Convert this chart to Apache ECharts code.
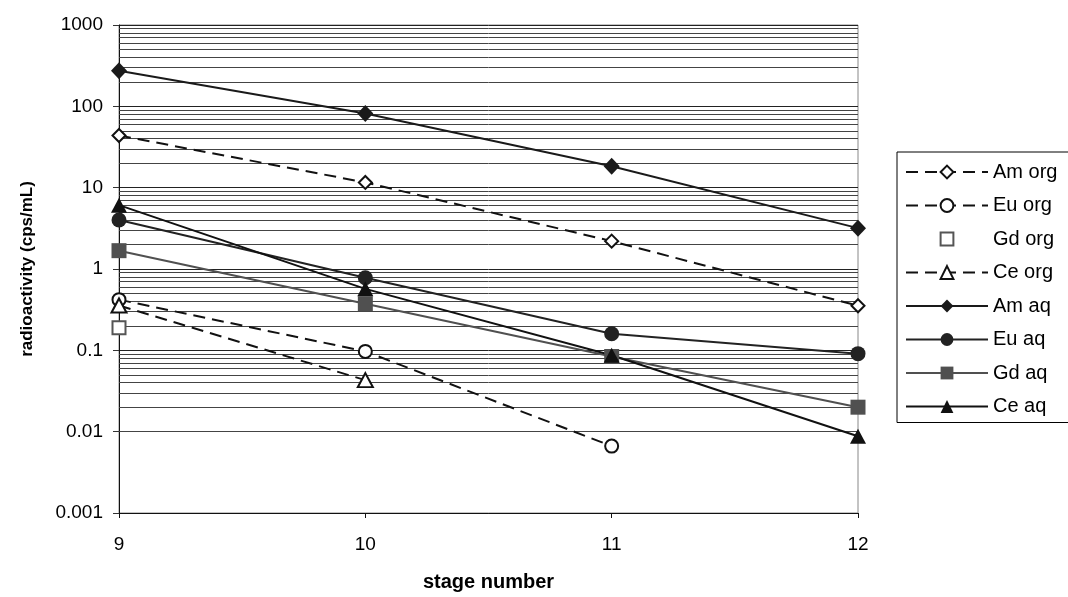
<!DOCTYPE html>
<html><head><meta charset="utf-8">
<script src="https://cdn.jsdelivr.net/npm/echarts@6/dist/echarts.min.js"></script>
<style>html,body{margin:0;padding:0;background:#fff}#c{width:1068px;height:597px}</style>
</head><body><div id="c"></div>
<script>
const stages = [9, 10, 11, 12];
const xTickLabels = ['9', '10', '11', '12'];
const yTickLabels = ['0.001', '0.01', '0.1', '1', '10', '100', '1000'];
const amOrg = [43.8, 11.6, 2.2, 0.353];
const euOrg = [0.42, 0.097, 0.00665, null];
const gdOrg = [0.19, null, null, null];
const ceOrg = [0.356, 0.043, null, null];
const amAq = [274, 81.5, 18.3, 3.18];
const euAq = [4.0, 0.78, 0.16, 0.091];
const gdAq = [1.68, 0.374, 0.084, 0.020];
const ceAq = [6.1, 0.57, 0.087, 0.0088];

const pair = arr => stages.map((s, i) => [s, arr[i]]).filter(p => p[1] != null);

// minor gridlines at 2..9 x each decade
const minorGrid = [];
[0.001, 0.01, 0.1, 1, 10, 100].forEach(d => { for (let k = 2; k <= 9; k++) minorGrid.push(+(d * k).toPrecision(3)); });

const font = 'Liberation Sans, Arial, sans-serif';
const dash = [12, 7];
function mk(name, data, symbol, color, opts) {
  opts = opts || {};
  return {
    name, type: 'line', data: pair(data), symbol, symbolSize: opts.size || 14,
    lineStyle: { color: color, width: opts.noLine ? 0 : 2, type: opts.dashed ? dash : 'solid', opacity: opts.noLine ? 0 : 1 },
    itemStyle: opts.hollow ? { color: '#fff', borderColor: color, borderWidth: 2 } : { color: color, borderWidth: 0 },
    emphasis: { disabled: true }, animation: false, z: 5, connectNulls: false
  };
}
const series = [
  mk('Am org', amOrg, 'diamond', '#111', { dashed: true, hollow: true, size: [13, 13] }),
  mk('Eu org', euOrg, 'circle', '#111', { dashed: true, hollow: true, size: 13 }),
  mk('Gd org', gdOrg, 'rect', '#555', { noLine: true, hollow: true, size: 13 }),
  mk('Ce org', ceOrg, 'triangle', '#111', { dashed: true, hollow: true, size: [15, 14] }),
  mk('Am aq', amAq, 'diamond', '#1a1a1a', { size: [16, 17] }),
  mk('Eu aq', euAq, 'circle', '#222', { size: 15 }),
  mk('Gd aq', gdAq, 'rect', '#505050', { size: 15 }),
  mk('Ce aq', ceAq, 'triangle', '#111', { size: [16, 15] }),
  {
    name: 'grid', type: 'line', data: [], silent: true, z: 1,
    markLine: { silent: true, symbol: 'none', label: { show: false }, animation: false,
      lineStyle: { color: '#444', width: 1, type: 'solid' },
      data: minorGrid.map(v => ({ yAxis: v })) }
  }
];

const chart = echarts.init(document.getElementById('c'), null, { renderer: 'canvas' });
chart.setOption({
  animation: false,
  backgroundColor: '#fff',
  grid: { left: 119, right: 210, top: 25, bottom: 82, show: true, borderColor: '#888', borderWidth: 1 },
  xAxis: {
    type: 'value', min: 9, max: 12, interval: 1,
    name: 'stage number', nameLocation: 'middle', nameGap: 59,
    nameTextStyle: { fontFamily: font, fontSize: 20, fontWeight: 'bold', color: '#000' },
    axisLine: { show: true, lineStyle: { color: '#111', width: 1 } },
    axisTick: { show: true, length: 5, inside: false, lineStyle: { color: '#111' } },
    axisLabel: { fontFamily: font, fontSize: 19, color: '#000', margin: 22,
      formatter: (v) => xTickLabels[stages.indexOf(v)] || '' },
    splitLine: { show: false }
  },
  yAxis: {
    type: 'log', logBase: 10, min: 0.001, max: 1000,
    name: 'radioactivity (cps/mL)', nameLocation: 'middle', nameRotate: 90, nameGap: 83,
    nameTextStyle: { fontFamily: font, fontSize: 17, fontWeight: 'bold', color: '#000' },
    axisLine: { show: true, lineStyle: { color: '#111', width: 1 } },
    axisTick: { show: true, length: 6, lineStyle: { color: '#333' } },
    axisLabel: { fontFamily: font, fontSize: 19, color: '#000', margin: 16,
      formatter: (v, i) => yTickLabels[i] },
    splitLine: { show: true, lineStyle: { color: '#222', width: 1 } },
    minorTick: { show: false }
  },
  legend: {
    orient: 'vertical', left: 897, top: 152,
    padding: [10, 40, 6, 8], itemWidth: 82, itemHeight: 16, itemGap: 13.5,
    borderColor: '#000', borderWidth: 1, backgroundColor: '#fff',
    textStyle: { fontFamily: font, fontSize: 20, color: '#000' },
    data: ['Am org', 'Eu org', 'Gd org', 'Ce org', 'Am aq', 'Eu aq', 'Gd aq', 'Ce aq'],
    selectedMode: false
  },
  series: series
});
</script></body></html>
